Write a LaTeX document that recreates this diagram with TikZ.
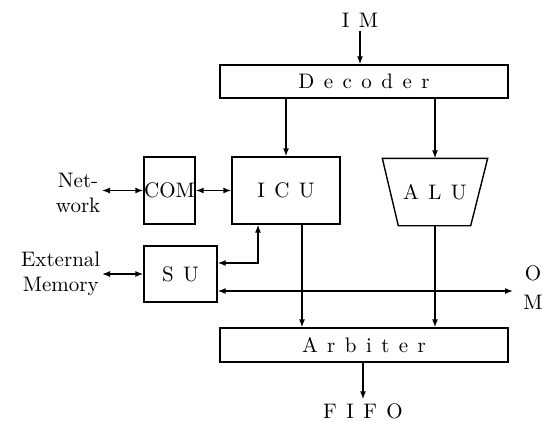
\documentclass[tikz,border=0pt]{standalone}
\usepackage{fontspec}
\setmainfont{lmroman10-regular}[Extension=.otf]
\usetikzlibrary{arrows.meta}
\newcommand{\widespace}{\spaceskip=0.45em\relax}

\begin{document}
\begin{tikzpicture}[x=1pt,y=-1pt,line width=1.4pt,
    font=\fontsize{21}{25}\selectfont,
    box/.style={draw, rectangle, inner sep=0pt},
    spaced/.style={font={\fontsize{21}{25}\selectfont\widespace}},
    arr/.style={-{Latex[length=8pt,width=6pt]}},
    dblarr/.style={{Latex[length=8pt,width=6pt]}-{Latex[length=8pt,width=6pt]}}]
  \useasboundingbox (0,0) rectangle (543,421);
  \node[spaced] (im) at (360,20) {I M};
  \node[box, spaced, minimum width=288, minimum height=33] (dec) at (364,81.5) {D e c o d e r};
  \node[box, spaced, minimum width=108, minimum height=67] (icu) at (286,190.5) {I C U};
  \node[spaced, minimum width=104, minimum height=66, inner sep=0pt] (alu) at (435,192) {A L U};
  \draw (alu.north west) -- (alu.north east) -- ([xshift=-17pt]alu.south east)
    -- ([xshift=16pt]alu.south west) -- cycle;
  \node[box, minimum width=51, minimum height=67] (com) at (169.5,190.5) {COM};
  \node[box, spaced, minimum width=73, minimum height=56] (su) at (180.5,274) {S U};
  \node[box, spaced, minimum width=288, minimum height=34] (arb) at (364,345) {A r b i t e r};
  \node[spaced] (fifo) at (363,411) {F I F O};
  \node[anchor=east, align=center, inner sep=1pt] (net) at (102,193) {Net-\\work};
  \node[anchor=east, align=center, inner sep=1pt] (ext) at (102,274) {External\\Memory};
  \node (o) at (533,273) {O};
  \node (m) at (533,302) {M};
  \coordinate (omend) at (513,291);
  \coordinate (icuport) at (258,263);
  \coordinate (icuout) at ([xshift=16pt]icu.south);
  \draw[arr] (im) -- (im |- dec.north);
  \draw[arr] (icu.north |- dec.south) -- (icu.north);
  \draw[arr] (alu.north |- dec.south) -- (alu.north);
  \draw[dblarr] (com.east) -- (icu.west);
  \draw[dblarr] (net.east |- com.west) -- (com.west);
  \draw[dblarr] (ext.east |- su.west) -- (su.west);
  \draw[dblarr] (su.east |- icuport) -| (icu.south -| icuport);
  \draw[dblarr] (su.east |- omend) -- (omend);
  \draw[arr] (icuout) -- (icuout |- arb.north);
  \draw[arr] (alu.south) -- (alu.south |- arb.north);
  \draw[arr] (arb.south -| fifo) -- (fifo);
\end{tikzpicture}
\end{document}
